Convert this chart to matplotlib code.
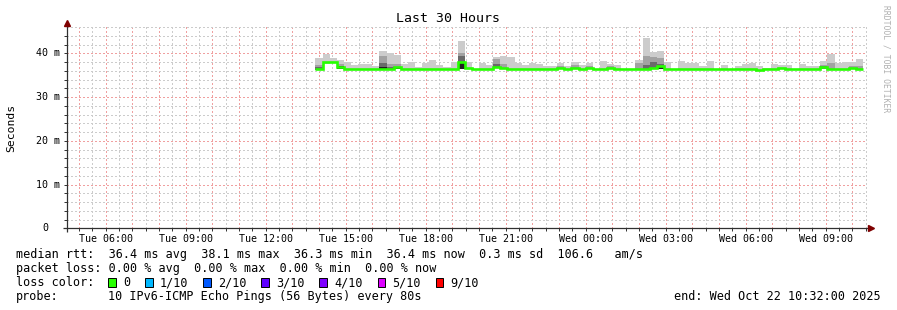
import numpy as np
import matplotlib
matplotlib.use("Agg")
import matplotlib.pyplot as plt
from matplotlib.patches import Rectangle

# ---------------- data ----------------
first_bar_hour = 13 + 52 / 60.0      # Tue 13:52, hours since Tue 00:00
bar_step_hours = 16 / 60.0           # consolidated step: 16 minutes
view_start = 4 + 32 / 60.0           # Tue 04:32
view_end = 34 + 32 / 60.0            # Wed 10:32

rtt_median = [
    36.3, 37.9, 38.1, 36.8, 36.5, 36.3, 36.3, 36.3, 36.3, 36.3,
    36.4, 36.8, 36.3, 36.3, 36.3, 36.4, 36.3, 36.3, 36.3, 36.3,
    37.9, 36.7, 36.3, 36.3, 36.3, 36.9, 36.6, 36.3, 36.5, 36.4,
    36.5, 36.3, 36.3, 36.3, 36.6, 36.3, 36.6, 36.3, 36.6, 36.3,
    36.3, 36.7, 36.3, 36.3, 36.3, 36.3, 36.4, 36.6, 37.0, 36.3,
    36.3, 36.4, 36.3, 36.3, 36.5, 36.3, 36.3, 36.3, 36.3, 36.3,
    36.3, 36.3, 36.2, 36.3, 36.3, 36.6, 36.3, 36.3, 36.4, 36.4,
    36.3, 36.8, 36.4, 36.3, 36.3, 36.6, 36.4]

rtt_max = [
    38.9, 39.8, 38.9, 38.4, 37.9, 37.3, 37.6, 37.6, 37.0, 40.5,
    40.0, 39.5, 37.6, 37.9, 36.9, 37.8, 38.4, 37.3, 36.8, 37.9,
    42.7, 37.9, 36.5, 37.8, 37.3, 39.2, 39.3, 39.2, 37.7, 37.4,
    37.8, 37.6, 37.0, 37.0, 37.8, 37.0, 37.9, 37.3, 37.7, 36.5,
    38.2, 37.6, 37.3, 36.5, 36.5, 38.4, 43.5, 40.3, 40.5, 38.0,
    36.5, 38.2, 37.8, 37.8, 37.0, 38.2, 36.5, 37.3, 36.5, 37.0,
    37.6, 37.8, 37.0, 36.7, 37.6, 37.3, 37.3, 36.5, 37.6, 37.0,
    37.0, 38.2, 39.9, 37.8, 37.9, 37.9, 38.7]

rtt_min = [
    36.1, 37.6, 37.7, 36.5, 36.2, 36.2, 36.2, 36.2, 36.2, 36.2,
    36.2, 36.3, 36.2, 36.2, 36.2, 36.2, 36.2, 36.2, 36.2, 36.2,
    36.3, 36.4, 36.2, 36.2, 36.2, 36.6, 36.3, 36.2, 36.2, 36.2,
    36.2, 36.2, 36.2, 36.2, 36.3, 36.2, 36.3, 36.2, 36.3, 36.2,
    36.2, 36.4, 36.2, 36.2, 36.2, 36.2, 36.2, 36.3, 36.4, 36.2,
    36.2, 36.2, 36.2, 36.2, 36.2, 36.2, 36.2, 36.2, 36.2, 36.2,
    36.2, 36.2, 36.1, 36.2, 36.2, 36.3, 36.2, 36.2, 36.2, 36.2,
    36.2, 36.4, 36.2, 36.2, 36.2, 36.3, 36.2]

# inner smoke bands (top of band, bar index -> ms); absent = no visible band
smoke_mid_top = {0: 37.4, 3: 37.5, 9: 39.3, 10: 37.6, 11: 37.6, 20: 40.1,
                 25: 38.8, 26: 37.6, 34: 37.1, 36: 37.3, 38: 37.1, 41: 37.2,
                 45: 37.7, 46: 39.3, 47: 39.2, 48: 39.0, 71: 37.4, 72: 37.8,
                 75: 37.0, 76: 37.2}
smoke_dark_top = {0: 36.8, 3: 37.2, 9: 37.8, 10: 36.9, 20: 39.3, 25: 37.6,
                  46: 37.4, 47: 37.9, 48: 37.6, 71: 37.0}
smoke_core_top = {3: 37.2, 9: 36.8, 11: 36.8, 20: 37.8, 48: 36.9}

tick_hours = [6, 9, 12, 15, 18, 21, 24, 27, 30, 33]
tick_labels = ["Tue 06:00", "Tue 09:00", "Tue 12:00", "Tue 15:00", "Tue 18:00",
               "Tue 21:00", "Wed 00:00", "Wed 03:00", "Wed 06:00", "Wed 09:00"]
y_ticks = [0, 10, 20, 30, 40]
y_tick_labels = ["0", "10 m", "20 m", "30 m", "40 m"]
y_top = 46

median_avg, median_max, median_min, median_now, median_sd, am_s = 36.4, 38.1, 36.3, 36.4, 0.3, 106.6
loss_avg, loss_max, loss_min, loss_now = 0.00, 0.00, 0.00, 0.00
loss_labels = ["0", "1/10", "2/10", "3/10", "4/10", "5/10", "9/10"]
loss_colors = ["#26ff00", "#00b8ff", "#0059ff", "#5e00ff", "#7e00ff", "#dd00ff", "#ff0000"]
probe_text = "10 IPv6-ICMP Echo Pings (56 Bytes) every 80s"
end_text = "Wed Oct 22 10:32:00 2025"
title = "Last 30 Hours"

# ---------------- figure ----------------
W, H = 897, 310
MONO = "DejaVu Sans Mono"
fig = plt.figure(figsize=(W / 100, H / 100), dpi=100)
fig.patch.set_facecolor("white")

ax_left, ax_bottom_px, ax_w, ax_h = 66.5, 228.3, 800.0, 201.25
ax = fig.add_axes([ax_left / W, (H - ax_bottom_px) / H, ax_w / W, ax_h / H])
ax.set_facecolor("white")
ax.set_xlim(view_start, view_end)
ax.set_ylim(0, y_top)

n = len(rtt_median)
starts = first_bar_hour + np.arange(n) * bar_step_hours
edges = np.append(starts, starts[-1] + bar_step_hours)


def ext(v):
    v = np.asarray(v, dtype=float)
    return np.append(v, v[-1])


def band(d):
    arr = np.array(rtt_min, dtype=float)
    for k, v in d.items():
        arr[k] = v
    return arr


# grid
minor_grid_color = "#cccccc"
major_grid_color = "#f0a0a0"
dot = (0, (1, 2))
half_hours = np.arange(np.ceil(view_start * 2) / 2, view_end, 0.5)
for h in half_hours:
    if abs(h - round(h)) > 1e-6:
        ax.axvline(h, color=minor_grid_color, lw=0.75, ls=dot, zorder=1, antialiased=False)
for h in np.arange(np.ceil(view_start), view_end, 1.0):
    ax.axvline(h, color=major_grid_color, lw=0.75, ls=dot, zorder=1, antialiased=False)
for y in np.arange(2, y_top + 0.1, 2):
    if y % 10 != 0:
        ax.axhline(y, color=minor_grid_color, lw=0.75, ls=dot, zorder=1, antialiased=False)
for y in y_ticks[1:]:
    ax.axhline(y, color=major_grid_color, lw=0.75, ls=dot, zorder=1, antialiased=False)

# smoke
lo = ext(rtt_min)
ax.fill_between(edges, lo, ext(rtt_max), step="post", color="#cccccc", lw=0, zorder=2)
ax.fill_between(edges, lo, ext(band(smoke_mid_top)), step="post", color="#a2a2a2", lw=0, zorder=3)
ax.fill_between(edges, lo, ext(band(smoke_dark_top)), step="post", color="#6a6a6a", lw=0, zorder=3.1)
ax.fill_between(edges, lo, ext(band(smoke_core_top)), step="post", color="#202020", lw=0, zorder=3.2)

# median line (loss colour 0)
ax.step(edges, ext(rtt_median), where="post", color=loss_colors[0], lw=1.9,
        solid_capstyle="butt", solid_joinstyle="miter", zorder=5)

# axes
for s in ax.spines.values():
    s.set_visible(False)
axis_color = "#303030"
ax.plot([0, 0], [-4 / ax_h, 1 + 2 / ax_h], transform=ax.transAxes, color=axis_color,
        lw=0.9, clip_on=False, zorder=6, solid_capstyle="butt")
ax.plot([-4 / ax_w, 1 + 2 / ax_w], [0, 0], transform=ax.transAxes, color=axis_color,
        lw=0.9, clip_on=False, zorder=6, solid_capstyle="butt")
ax.plot([0.5 / ax_w], [1 + 4.5 / ax_h], marker="^", ms=5, color="#7f0000", mec="#7f0000",
        transform=ax.transAxes, clip_on=False, zorder=7)
ax.plot([1 + 4.5 / ax_w], [0], marker=">", ms=5, color="#7f0000", mec="#7f0000",
        transform=ax.transAxes, clip_on=False, zorder=7)

ax.set_xticks(tick_hours)
ax.set_xticklabels(tick_labels, fontfamily=MONO, fontsize=7.2)
ax.set_xticks(half_hours, minor=True)
ax.set_yticks(y_ticks)
ax.set_yticklabels([])
ax.set_yticks(np.arange(2, y_top, 2), minor=True)
ax.tick_params(axis="x", which="major", length=2, width=0.7, color=axis_color, pad=2)
ax.tick_params(axis="x", which="minor", length=2, width=0.7, color=axis_color)
ax.tick_params(axis="y", which="both", length=2.2, width=0.7, color=axis_color)

for v, lab in zip(y_ticks, y_tick_labels):
    right_px = 60.0 if lab != "0" else 48.0
    ax.text((right_px - ax_left) / ax_w, v, lab, transform=ax.get_yaxis_transform(),
            ha="right", va="center", fontfamily=MONO, fontsize=7.2)

# titles / labels
fig.text(448 / W, 1 - 19 / H, title, ha="center", va="center", fontfamily=MONO, fontsize=9.5)
fig.text(11 / W, 1 - 127.5 / H, "Seconds", rotation=90, ha="center", va="center",
         fontfamily=MONO, fontsize=8.2)
fig.text(886 / W, 1 - 59 / H, "RRDTOOL / TOBI OETIKER", rotation=270, ha="center",
         va="center", fontfamily=MONO, fontsize=5.8, color="#b0b0b0")

# legend
fs = 8.5
lx = 16 / W
line1 = (f"median rtt:  {median_avg:.1f} ms avg  {median_max:.1f} ms max  "
         f"{median_min:.1f} ms min  {median_now:.1f} ms now  {median_sd:.1f} ms sd  "
         f"{am_s:.1f}   am/s")
line2 = (f"packet loss: {loss_avg:.2f} % avg  {loss_max:.2f} % max  "
         f"{loss_min:.2f} % min  {loss_now:.2f} % now")
fig.text(lx, 1 - 254.3 / H, line1, ha="left", va="center", fontfamily=MONO, fontsize=fs)
fig.text(lx, 1 - 268.3 / H, line2, ha="left", va="center", fontfamily=MONO, fontsize=fs)
fig.text(lx, 1 - 282.6 / H, "loss color:", ha="left", va="center", fontfamily=MONO, fontsize=fs)
fig.text(lx, 1 - 296.7 / H, "probe:", ha="left", va="center", fontfamily=MONO, fontsize=fs)
fig.text(108.3 / W, 1 - 296.7 / H, probe_text, ha="left", va="center", fontfamily=MONO, fontsize=fs)
fig.text(881 / W, 1 - 296.7 / H, "end: " + end_text, ha="right", va="center",
         fontfamily=MONO, fontsize=fs)

char_w = 7.13
bx = 108.3
for lab, col in zip(loss_labels, loss_colors):
    fig.add_artist(Rectangle((bx / W, 1 - 286.6 / H), 7.7 / W, 8.2 / H,
                             transform=fig.transFigure, facecolor=col,
                             edgecolor="black", lw=0.7))
    fig.text((bx + 15) / W, 1 - 282.6 / H, lab, ha="left", va="center",
             fontfamily=MONO, fontsize=fs)
    bx = bx + 15 + len(lab) * char_w + 14.6

fig.savefig("out.png", dpi=100, facecolor="white")
